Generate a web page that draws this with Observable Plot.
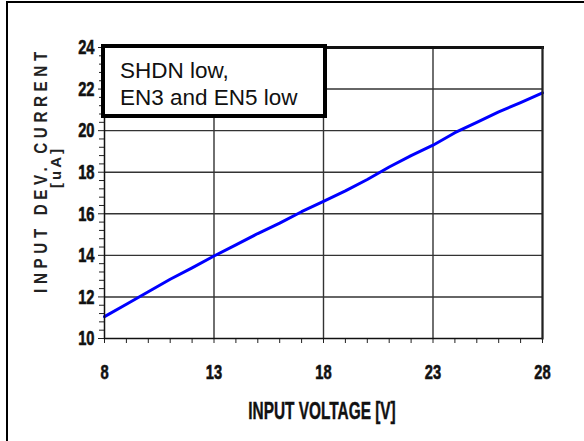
<!DOCTYPE html>
<html><head><meta charset="utf-8">
<script src="https://cdn.jsdelivr.net/npm/d3@7"></script>
<script src="https://cdn.jsdelivr.net/npm/@observablehq/plot@0.6"></script>
<style>
html,body{margin:0;padding:0;background:#fff;}
#wrap{position:relative;width:584px;height:441px;overflow:hidden;}
#frame{position:absolute;left:6px;top:1px;width:600px;height:460px;border-top:2px solid #000;border-left:2px solid #000;}
#chart{position:absolute;left:0;top:0;}
#note{position:absolute;left:101px;top:44px;width:203px;height:57.5px;border:4px solid #000;background:#fff;
  font-family:"Liberation Sans",Arial,sans-serif;font-size:22.5px;line-height:27.5px;color:#111;padding:8.5px 0 0 15px;white-space:nowrap;}
</style></head>
<body>
<div id="wrap"><div id="frame"></div><div id="chart"></div>
<div id="note">SHDN low,<br>EN3 and EN5 low</div></div>
<script>
// data
const voltage = [8, 9, 10, 11, 12, 13, 14, 15, 16, 17, 18, 19, 20, 21, 22, 23, 24, 25, 26, 27, 28];
const current = [11.05, 11.65, 12.25, 12.85, 13.4, 13.97, 14.5, 15.05, 15.55, 16.1, 16.6, 17.1, 17.65, 18.25, 18.8, 19.3, 19.9, 20.4, 20.9, 21.35, 21.82];
const xTicks = [8, 13, 18, 23, 28];
const yTicks = [10, 12, 14, 16, 18, 20, 22, 24];
const xGrid = [13, 18, 23];
const yGrid = [12, 14, 16, 18, 20, 22];
const xMinor = [9, 10, 11, 12, 14, 15, 16, 17, 19, 20, 21, 22, 24, 25, 26, 27];
const yMinor = [10.4, 10.8, 11.2, 11.6, 12.4, 12.8, 13.2, 13.6, 14.4, 14.8, 15.2, 15.6, 16.4, 16.8, 17.2, 17.6,
  18.4, 18.8, 19.2, 19.6, 20.4, 20.8, 21.2, 21.6, 22.4, 22.8, 23.2, 23.6];
const xTitle = "INPUT VOLTAGE [V]";
const yTitle = "INPUT DEV. CURRENT";
const yUnit = "[uA]";

const data = voltage.map((v, i) => ({v, c: current[i]}));
const font = '"Liberation Sans",Arial,sans-serif';

const chart = Plot.plot({
  width: 584, height: 441,
  marginLeft: 104, marginRight: 42, marginTop: 47, marginBottom: 103,
  x: {domain: [8, 28]},
  y: {domain: [10, 24]},
  style: {fontFamily: font, fontSize: "21px", fontWeight: "bold", color: "#111", background: "transparent", overflow: "visible"},
  marks: [
    Plot.gridX(xGrid, {stroke: "#333", strokeOpacity: 1, strokeWidth: 1.4}),
    Plot.gridY(yGrid, {stroke: "#333", strokeOpacity: 1, strokeWidth: 1.4}),
    Plot.axisX(xMinor, {tickSize: 5, text: null, label: null, stroke: "#222"}),
    Plot.axisX(xTicks, {tickSize: 5, tickPadding: 21, label: null, stroke: "#222", fontSize: 21}),
    Plot.axisY(yMinor, {tickSize: 5, text: null, label: null, stroke: "#222"}),
    Plot.axisY(yTicks, {tickSize: 6, tickPadding: 4, label: null, stroke: "#222", fontSize: 21}),
    Plot.line(data, {x: "v", y: "c", stroke: "#0000ff", strokeWidth: 3}),
    Plot.frame({stroke: "#111", strokeWidth: 1.5}),
    Plot.frame({anchor: "top", stroke: "#111", strokeWidth: 3}),
    Plot.frame({anchor: "right", stroke: "#222", strokeWidth: 2})
  ]
});
document.getElementById("chart").appendChild(chart);

const svg = d3.select(chart);
// condensed look for the tick labels
svg.selectAll('g[aria-label="x-axis tick label"] text, g[aria-label="y-axis tick label"] text')
  .attr("transform", function() { return (this.getAttribute("transform") || "") + " scale(0.7,1)"; })
  .style("stroke", "#111").style("stroke-width", "0.6px");

svg.append("text")
  .attr("transform", "translate(322,419) scale(0.7,1.05)")
  .attr("text-anchor", "middle")
  .style("font-family", font).style("font-size", "22px").style("font-weight", "bold")
  .style("stroke", "#111").style("stroke-width", "0.4px")
  .attr("fill", "#111")
  .text(xTitle);
svg.append("text")
  .attr("transform", "translate(47,170) rotate(-90) scale(0.8,1)")
  .attr("text-anchor", "middle")
  .style("font-family", font).style("font-size", "19px").style("font-weight", "bold")
  .style("letter-spacing", "5.8px").attr("fill", "#222")
  .text(yTitle);
svg.append("text")
  .attr("transform", "translate(61,167) rotate(-90)")
  .attr("text-anchor", "middle")
  .style("font-family", font).style("font-size", "15px")
  .style("letter-spacing", "3px").attr("fill", "#222")
  .text(yUnit);
</script>
</body></html>
